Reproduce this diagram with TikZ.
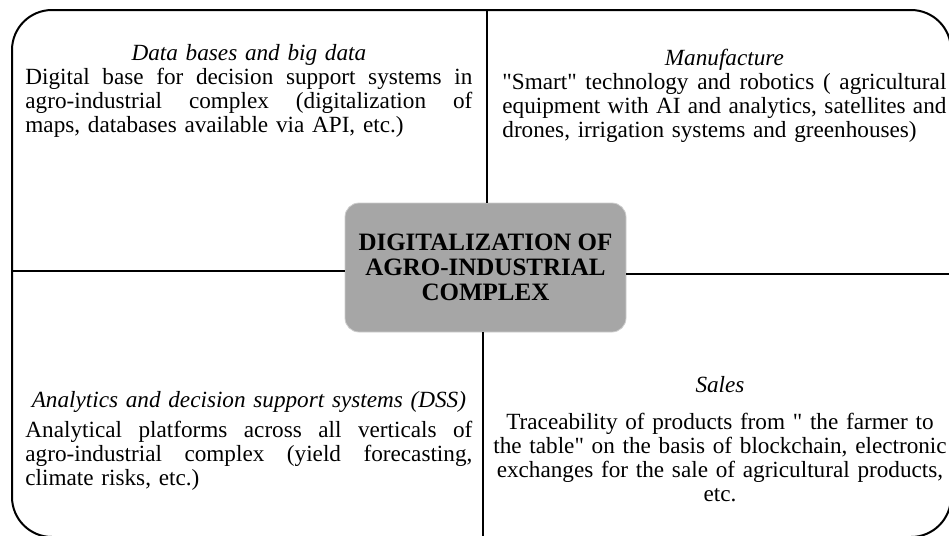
\documentclass[tikz,border=0pt]{standalone}
\usepackage{fontspec}
\setmainfont{Liberation Serif}[Ligatures=TeXOff]
\definecolor{hubgray}{RGB}{166,166,166}
\definecolor{hubrim}{RGB}{205,205,205}
% one justified line (align=left fixes \spaceskip, so reset it), and a centred italic heading
\newcommand{\fillline}[1]{\makebox[\linewidth][s]{\spaceskip=0pt\xspaceskip=0pt\strut #1}}
\newcommand{\celltitle}[1]{\makebox[\linewidth][c]{\strut\itshape #1}}

\begin{document}
\begin{tikzpicture}[x=0.5pt,y=-0.5pt,
  cell/.style={inner sep=0pt, text width=#1, align=left,
               font=\fontsize{11.6}{12}\selectfont}]
\useasboundingbox (0,0) rectangle (949,536);
\draw[line width=1pt, rounded corners=20pt] (12,10) rectangle (951,537);
\node[draw=hubrim, fill=hubgray, rounded corners=7pt, inner sep=0pt,
      minimum width=140.5pt, minimum height=64.5pt, align=center,
      font=\bfseries\fontsize{12.5}{12.5}\selectfont] (hub) at (485.5,267.5)
      {DIGITALIZATION OF\\AGRO-INDUSTRIAL\\COMPLEX};
% dividers between the four fields
\coordinate (ntop) at (487,10);
\coordinate (sbot) at (483,537);
\coordinate (wend) at (12,271);
\coordinate (eend) at (951,274);
\path [-, line width=1pt] (ntop) edge (ntop |- hub.north);
\path [-, line width=1pt] (sbot) edge (sbot |- hub.south);
\path [-, line width=1pt] (wend) edge (wend -| hub.west);
\path [-, line width=1pt] (eend) edge (eend -| hub.east);
\node[cell=223.5pt, anchor=north west] (bigdata) at (25,43) {%
  \celltitle{Data bases and big data}\\
  \fillline{Digital base for decision support systems in}\\
  \fillline{agro-industrial complex (digitalization of}\\
  \strut maps, databases available via API, etc.)};
\node[cell=222pt, anchor=north west] (manuf) at (502,48) {%
  \celltitle{Manufacture}\\
  \fillline{"Smart" technology and robotics ( agricultural}\\
  \fillline{equipment with AI and analytics, satellites and}\\
  \strut drones, irrigation systems and greenhouses)};
\node[cell=223.5pt, anchor=north west] (dss) at (25,390) {%
  \celltitle{Analytics and decision support systems (DSS)}\\[3pt]
  \fillline{Analytical platforms across all verticals of}\\
  \fillline{agro-industrial complex (yield forecasting,}\\
  \strut climate risks, etc.)};
\node[cell=230pt, align=center, anchor=north] (sales) at (720,375) {%
  \strut\textit{Sales}\\[6.5pt]
  \strut Traceability of products from " the farmer to\\
  \strut the table" on the basis of blockchain, electronic\\
  \strut exchanges for the sale of agricultural products,\\
  \strut etc.};
\end{tikzpicture}
\end{document}
